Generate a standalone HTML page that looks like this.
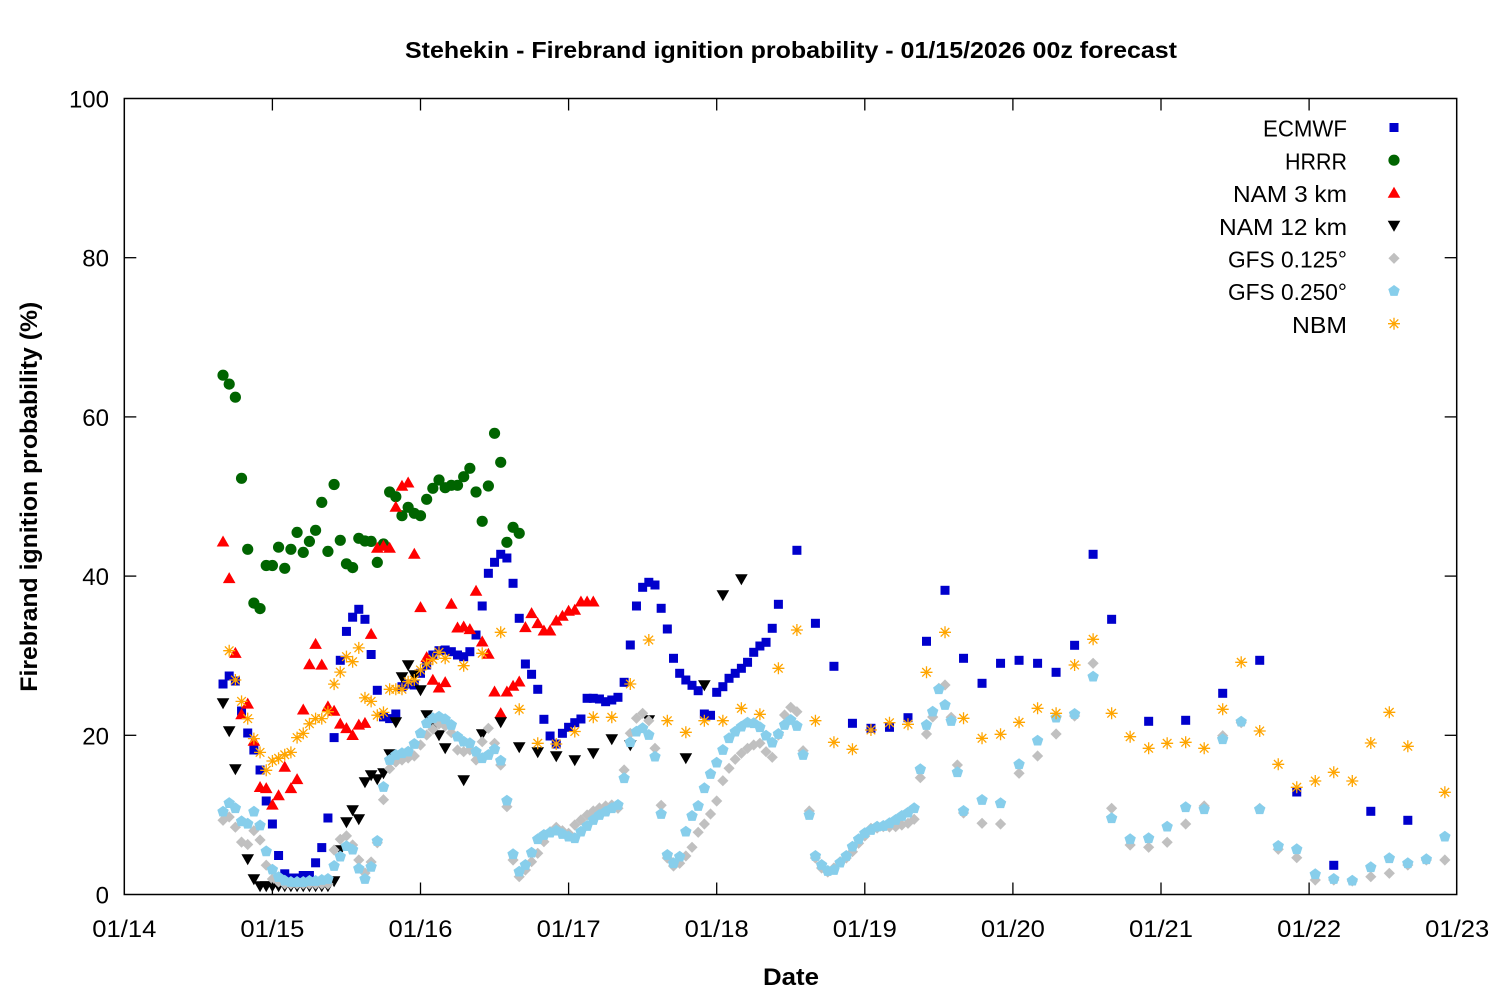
<!DOCTYPE html>
<html><head><meta charset="utf-8">
<style>
html,body{margin:0;padding:0;background:#fff;}
svg{display:block;}
text{font-family:"Liberation Sans",sans-serif;fill:#000;}
</style></head>
<body>
<svg xmlns="http://www.w3.org/2000/svg" xmlns:xlink="http://www.w3.org/1999/xlink" width="1500" height="1000" viewBox="0 0 1500 1000">
<defs>
<rect id="sq" x="-4.5" y="-4.5" width="9" height="9" fill="#0000cc"/>
<circle id="ci" r="5.6" fill="#006400"/>
<polygon id="tu" points="0,-6.2 6.3,4.8 -6.3,4.8" fill="#ff0000"/>
<polygon id="td" points="0,6.2 6.3,-4.8 -6.3,-4.8" fill="#000000"/>
<polygon id="di" points="0,-5.6 5.6,0 0,5.6 -5.6,0" fill="#c0c0c0"/>
<polygon id="pe" points="0,-6 5.71,-1.85 3.53,4.85 -3.53,4.85 -5.71,-1.85" fill="#87ceeb"/>
<g id="as" stroke="#ffa500" stroke-width="1.3" fill="none"><path d="M-6,0H6M0,-6V6M-4.3,-4.3L4.3,4.3M-4.3,4.3L4.3,-4.3"/></g>
</defs>
<rect x="0" y="0" width="1500" height="1000" fill="#fff"/>
<g id="pts"></g>
<rect x="124.3" y="98.5" width="1332.4" height="796" fill="none" stroke="#000" stroke-width="1.5"/>
<g id="ticks" stroke="#000" stroke-width="1.3"></g>
<g id="labels"></g>

<text x="791" y="58" text-anchor="middle" font-size="23" font-weight="bold" textLength="772" lengthAdjust="spacingAndGlyphs">Stehekin - Firebrand ignition probability - 01/15/2026 00z forecast</text>
<text x="791" y="985" text-anchor="middle" font-size="24" font-weight="bold" textLength="56" lengthAdjust="spacingAndGlyphs">Date</text>
<text transform="translate(37,496.7) rotate(-90)" x="0" y="0" text-anchor="middle" font-size="24" font-weight="bold" textLength="390" lengthAdjust="spacingAndGlyphs">Firebrand ignition probability (%)</text>

<g font-size="23">
<text x="1347" y="136.7" text-anchor="end" textLength="84" lengthAdjust="spacingAndGlyphs">ECMWF</text>
<text x="1347" y="169.4" text-anchor="end" textLength="62" lengthAdjust="spacingAndGlyphs">HRRR</text>
<text x="1347" y="202.1" text-anchor="end" textLength="114" lengthAdjust="spacingAndGlyphs">NAM 3 km</text>
<text x="1347" y="234.8" text-anchor="end" textLength="128" lengthAdjust="spacingAndGlyphs">NAM 12 km</text>
<text x="1347" y="267.5" text-anchor="end" textLength="119" lengthAdjust="spacingAndGlyphs">GFS 0.125°</text>
<text x="1347" y="300.2" text-anchor="end" textLength="119" lengthAdjust="spacingAndGlyphs">GFS 0.250°</text>
<text x="1347" y="332.9" text-anchor="end" textLength="55" lengthAdjust="spacingAndGlyphs">NBM</text>
</g>
<use href="#sq" xlink:href="#sq" x="1394" y="127.5"/>
<use href="#ci" xlink:href="#ci" x="1394" y="160.2"/>
<use href="#tu" xlink:href="#tu" x="1394" y="192.9"/>
<use href="#td" xlink:href="#td" x="1394" y="225.6"/>
<use href="#di" xlink:href="#di" x="1394" y="258.3"/>
<use href="#pe" xlink:href="#pe" x="1394" y="291"/>
<use href="#as" xlink:href="#as" x="1394" y="323.7"/>
</svg>

<script>
(function(){
var X0=223.03, DX=6.1708;
function xi(i){return X0+DX*i;}
var out='';
function H(id,start,arr){for(var k=0;k<arr.length;k++){var y=arr[k];if(y===null)continue;out+='<use href="#'+id+'" x="'+xi(start+k).toFixed(2)+'" y="'+y+'"/>';}}
function P(id,arr){for(var k=0;k<arr.length;k+=2){out+='<use href="#'+id+'" x="'+xi(arr[k]).toFixed(2)+'" y="'+arr[k+1]+'"/>';}}

// ECMWF
H('sq',0,[684,676,681,711,733,750,770,801,824,855.5,
873.8,878,878,875.5,875.5,862.8,847.6,818,737.6,660.3,
631.4,617.2,609.3,619.3,654.5,690.3,716.9,718.6,714,686.7,
684,685,673.3,665,655,650.7,650,651.7,655,656.7,
651.7,635,606,573.3,562.3,554.3,558,583.3,618.3,664,
674.3,689.3,719.3,736,744,733.3,727.3,722.7,719,698.3,
698.3,699,701.7,700,697.3,682.3,645,606,587.3,582.3,
585,608.3,629,658.3,673.3,680,685.3,690.7,714,715.3,
692.3,686.7,678.3,673.3,668.3,662.3,652.3,646,642.3,628.3,
604.3]);
P('sq',[93,550.3,96,623.3,99,666.3,102,723.3,105,728.3,108,727.3,111,717.7,114,641.3,117,590.3,120,658.3,123,683.3,126,663.3,129,660.3,132,663.3,135,672.3,138,645.3,141,554.3,144,619.3,150,721.3,156,720.3,162,693.3,168,660.3,174,792,180,865.3,186,811.3,192,820.3]);

// HRRR
H('ci',0,[375.2,384.1,397.2,478.3,549.3,603.1,608.6,565.5,565.5,547.2,
568.3,549.3,532.4,552.4,541.4,530.3,502.4,551.4,484.5,540.3,
563.8,567.6,538.3,541,541.4,562.4,544,492,496.7,515.7,
507.3,513.3,515.7,499.3,488.3,480,487.7,485.3,485.3,476.7,
468.3,492,521.3,486,433.3,462.3,542.3,527.3,533.3]);

// NAM 3 km
H('tu',0,[541.7,578.3,653.1,714.5,703.8,741,787.2,788.3,804.8,795.5,
766.9,788.3,779.3,709.7,664.5,644.1,664.8,706.6,711,723.8,
728.3,735.2,724.8,723.1,634.1,548,546,548,507,486,
482.7,554,607.3,657.3,680,687.7,682.3,604,627.7,626.7,
629.3,591,641.7,654,691.7,713.3,691.7,686,681.7,627.3,
613.3,623.3,630.7,630.7,620.7,616,611,610,601.7,601.7,
601.7]);

// NAM 12 km
H('td',0,[703,731,769,null,859,879,886,886,886,886,
886,886,886,886,886,886,886,886,881,850,
822,810,819,782,775,779,773,754,722,677,
665,675,690,715,728,735,748]);
P('td',[39,780,42,734,45,722,48,747,51,752,54,756,57,760,60,753,63,739,66,745,69,720,75,758,78,685,81,595,84,579]);

// GFS 0.125
H('di',0,[820.3,817,827.2,842.1,844.5,830.7,840,865.2,879,882,
884,884,884,884,884,884,884,884,850,839.3,
835.9,845,860,873,862,842.8,799.7,768.6,762,760,
758,756,745,735,729.3,724,726,732.7,750,751.7,
750,760,741.7,728.3,743.3,765,806.7,860,876.7,870,
861.7,853.3,841.7,831.7,827.3,830.7,833.3,825,820,815,
811,808,806,805,808.3,770,733.3,718.3,713.3,720.7,
748.3,805.3,858,866,863.3,856,847.3,832.3,824,814,
801,780.7,768.3,759.3,753.3,748.3,745,743.3,751.7,757.3,
735,715,707.3,711.7,750.7,811,858,868,872,868,
861.7,858,851.7,843.3,836,828.3,828,826.7,827,826.7,
825,823.3,819.3,777.7,734,717,688.3,685,717.3,765,
813]);
P('di',[123,823.3,126,824,129,773.3,132,756,135,734,138,716,141,663.3,144,808.3,147,845,150,847.3,153,842.3,156,824,159,806,162,735.7,165,722.7,168,808.3,171,849.3,174,857.7,177,880,180,880,183,881,186,876.7,189,873.3,192,865,195,860,198,860]);

// GFS 0.250
H('pe',0,[811.7,803.1,808.3,821.4,823.8,811.7,825.5,851.4,869.7,877.2,
880.7,882,882,882,881,881,880,879,866,856.6,
846.2,849.7,868.6,879,866.9,841,787,760,755,753.3,
751.7,744,733.3,723.3,718.3,716.7,719.3,725,736.7,741.7,
743.3,751.7,758.3,755,749.3,760.7,800.7,854.3,871.7,865,
852.7,839.3,835,832.7,830.7,834,836.7,838.3,831.7,826,
820,815,811.7,808.3,805,778.3,742.3,731.7,728.3,735,
756.7,814,855,863.3,856.7,831.7,816,806,788.3,774,
762.7,750,738.3,731.7,726.7,722.7,723.3,727.3,735.7,742.7,
734,725,720,726,755,815,856,865,871,870,
862.7,856,846.7,839.3,833.3,830,826.7,826,823.3,820,
816,812.7,808.3,769.3,725,711.7,689.3,705,721,772.3,
811]);
P('pe',[123,800,126,803.3,129,764.3,132,740.7,135,717.7,138,714,141,676.7,144,818.3,147,839.3,150,838.3,153,826.7,156,807.3,159,809.3,162,739.3,165,721.7,168,809.3,171,846,174,849.3,177,874.3,180,879,183,880.7,186,867.3,189,858.3,192,863.3,195,859.3,198,836.7]);

// NBM
H('as',1,[650.7,680,701.4,718.6,738.6,752.4,770.3,761,758.3,754.8,
752.4,737.6,733.4,723.8,718.6,718.6,711.7,684.1,672.1,656.6,
661.7,647.9,697.9,701.4,715.2,712.4,689.3,689.3,689.3,681.7,
680,670,664,659.3,652.3,658.3]);
P('as',[39,665.7,42,653.3,45,632.3,48,709.3,51,743.3,54,744,57,731.5,60,717.3,63,717.3,66,684,69,640,72,720.7,75,732.3,78,720.7,81,720.7,84,708.3,87,714.3,90,668.3,93,630,96,720.7,99,742.3,102,749.3,105,730,108,722.7,111,724.3,114,672.3,117,632.3,120,718.3,123,738.3,126,734.3,129,722.3,132,708.3,135,713.3,138,665,141,639.3,144,713.3,147,736.7,150,748.3,153,743.3,156,742.3,159,748.3,162,709.3,165,662.3,168,731,171,764.3,174,787.3,177,781,180,772.3,183,781,186,743,189,712.3,192,746.3,198,792.3]);

document.getElementById('pts').innerHTML=out;

// ticks and labels
var t='', l='';
var dates=['01/14','01/15','01/16','01/17','01/18','01/19','01/20','01/21','01/22','01/23'];
for(var k=0;k<10;k++){
  var x=124.3+148.1*k;
  if(k>0&&k<9){t+='<line x1="'+x+'" y1="894.5" x2="'+x+'" y2="882.5"/><line x1="'+x+'" y1="98.5" x2="'+x+'" y2="110.5"/>';}
  l+='<text x="'+x+'" y="937" text-anchor="middle" font-size="24" textLength="64" lengthAdjust="spacingAndGlyphs">'+dates[k]+'</text>';
}
for(var j=0;j<6;j++){
  var y=894.5-159.2*j;
  if(j>0&&j<5){t+='<line x1="124.3" y1="'+y+'" x2="136.3" y2="'+y+'"/><line x1="1456.7" y1="'+y+'" x2="1444.7" y2="'+y+'"/>';}
  l+='<text x="109" y="'+(y+9)+'" text-anchor="end" font-size="24">'+(j*20)+'</text>';
}
document.getElementById('ticks').innerHTML=t;
document.getElementById('labels').innerHTML=l;
})();
</script>
</body></html>
